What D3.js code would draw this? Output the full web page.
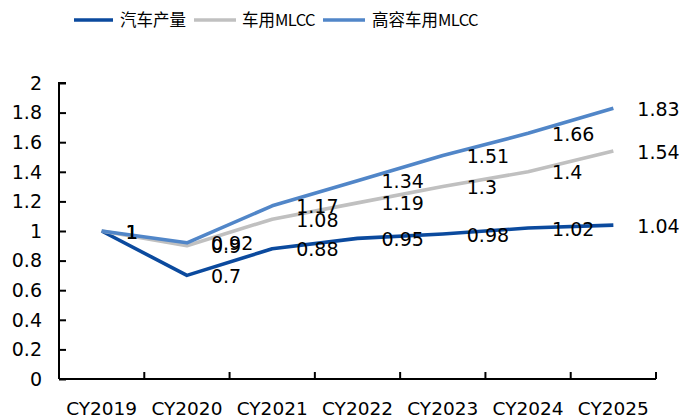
<!DOCTYPE html>
<html><head><meta charset="utf-8">
<script src="https://cdn.jsdelivr.net/npm/d3@7"></script>
<style>body{margin:0;background:#fff}svg{display:block}</style>
</head><body><svg id="c" width="680" height="418"></svg>
<script>
const categories = ["CY2019","CY2020","CY2021","CY2022","CY2023","CY2024","CY2025"];
const autoOutput = [1, 0.7, 0.88, 0.95, 0.98, 1.02, 1.04];
const autoMLCC = [1, 0.9, 1.08, 1.19, 1.3, 1.4, 1.54];
const highCapMLCC = [1, 0.92, 1.17, 1.34, 1.51, 1.66, 1.83];
const seriesNames = ["汽车产量", "车用MLCC", "高容车用MLCC"];
const yTicks = [0, 0.2, 0.4, 0.6, 0.8, 1, 1.2, 1.4, 1.6, 1.8, 2];

const colors = ["#0b4a9e", "#c0c0c0", "#5186c8"];
const series = [autoOutput, autoMLCC, highCapMLCC];

const svg = d3.select("#c");
const x = d3.scaleBand().domain(categories).range([59, 656]);
const y = d3.scaleLinear().domain([0, 2]).range([379, 83]);
const font = "'DejaVu Sans', Verdana, sans-serif";

// axes
const yAxis = svg.append("g").attr("transform", "translate(59,0)")
  .call(d3.axisRight(y).tickValues(yTicks).tickSize(7).tickFormat(d3.format("~g")));
yAxis.selectAll("text").remove();
yAxis.select(".domain").attr("stroke", "#000").attr("stroke-width", 2).attr("d", "M7,83H0V379H0");
yAxis.selectAll(".tick line").attr("stroke", "#000").attr("stroke-width", 2);
svg.append("g").selectAll("text").data(yTicks).join("text")
  .attr("x", 42).attr("y", d => y(d)).attr("dy", "0.36em")
  .attr("text-anchor", "end").attr("font-family", font).attr("font-size", 19)
  .attr("fill", "#000").text(d3.format("~g"));

const xAxis = svg.append("g").attr("transform", "translate(0,379)")
  .call(d3.axisTop(x).tickSize(0).tickFormat(""));
xAxis.select(".domain").attr("stroke", "#000").attr("stroke-width", 2).attr("d", "M59,0H656");
xAxis.selectAll(".tick").remove();
const xTickPos = categories.map((c) => x(c) + x.bandwidth());
svg.append("g").selectAll("line").data(xTickPos).join("line")
  .attr("x1", d => d).attr("x2", d => d).attr("y1", 379).attr("y2", 372)
  .attr("stroke", "#000").attr("stroke-width", 2);
svg.append("g").selectAll("text").data(categories).join("text")
  .attr("x", d => x(d) + x.bandwidth() / 2).attr("y", 415)
  .attr("text-anchor", "middle").attr("font-family", font).attr("font-size", 18.5)
  .attr("fill", "#000").text(d => d);

// lines
const line = d3.line().x((d, i) => x(categories[i]) + x.bandwidth() / 2).y(d => y(d));
series.forEach((s, k) => {
  svg.append("path").datum(s).attr("d", line).attr("fill", "none")
    .attr("stroke", colors[k]).attr("stroke-width", 3.6).attr("stroke-linejoin", "round");
});
// labels
series.forEach((s, k) => {
  svg.append("g").selectAll("text").data(s).join("text")
    .attr("x", (d, i) => x(categories[i]) + x.bandwidth() / 2 + 24)
    .attr("y", d => y(d)).attr("dy", "0.4em")
    .attr("font-family", font).attr("font-size", 19).attr("fill", "#000")
    .text(d => d3.format("~g")(d));
});

// legend
const legendItems = [
  {name: seriesNames[0], color: colors[0], x1: 74, x2: 113, tx: 120},
  {name: seriesNames[1], color: colors[1], x1: 194, x2: 236, tx: 242},
  {name: seriesNames[2], color: colors[2], x1: 323, x2: 365, tx: 372}
];
const lg = svg.append("g");
legendItems.forEach(it => {
  lg.append("line").attr("x1", it.x1).attr("x2", it.x2).attr("y1", 20).attr("y2", 20)
    .attr("stroke", it.color).attr("stroke-width", 3.6);
  const t = lg.append("text").attr("x", it.tx).attr("y", 20).attr("dy", "0.36em")
    .attr("font-family", "'Noto Sans CJK SC', sans-serif").attr("font-size", 16.5)
    .attr("fill", "#000");
  const m = it.name.match(/^([^A-Za-z]*)(.*)$/);
  t.append("tspan").text(m[1]);
  if (m[2]) t.append("tspan").attr("letter-spacing", -0.6).text(m[2]);
});
</script></body></html>
